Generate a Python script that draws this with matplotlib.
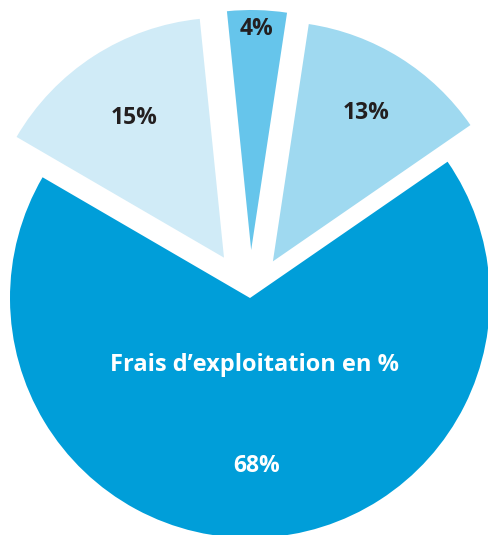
import matplotlib.pyplot as plt
import numpy as np

# Frais d'exploitation en %
values = [68, 13, 4, 15]
labels = ['68%', '13%', '4%', '15%']
colors = ['#009ED9', '#9FD9F0', '#66C5EB', '#D0EBF7']
explode = [0, 0.18, 0.2, 0.2]
label_dist = [0.70, 0.73, 0.92, 0.69]
label_colors = ['white', '#231F20', '#231F20', '#231F20']

fig = plt.figure(figsize=(4.88, 5.35), dpi=100)
ax = fig.add_axes([0, 0, 1, 1])

wedges, texts = ax.pie(values, colors=colors, explode=explode, startangle=149.8,
                       counterclock=True, radius=1.0,
                       wedgeprops=dict(linewidth=0))

for w, t, d, c, lab in zip(wedges, texts, label_dist, label_colors, labels):
    mid = np.deg2rad((w.theta1 + w.theta2) / 2)
    cx, cy = w.center
    t.set_position((cx + d * np.cos(mid), cy + d * np.sin(mid)))
    t.set_text(lab)
    t.set_color(c)
    t.set_fontsize(16.5)
    t.set_fontweight('bold')
    t.set_family('Open Sans')
    t.set_ha('center')
    t.set_va('center')

ax.text(0.02, -0.28, 'Frais d\u2019exploitation en %', color='white', fontsize=17,
        fontweight='bold', family='Open Sans', ha='center', va='center')

ax.set_xlim(-250 / 240, (488 - 250) / 240)
ax.set_ylim(-(535 - 298) / 240, 298 / 240)
ax.set_aspect('auto')
ax.axis('off')

fig.savefig('out.png', dpi=100)
